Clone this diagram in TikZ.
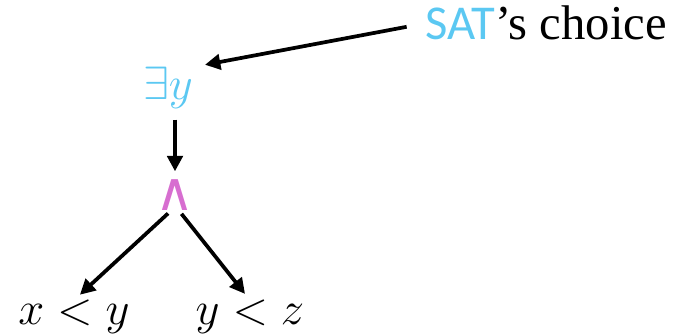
\RequirePackage{fix-cm}
\documentclass[tikz,border=0pt]{standalone}
\usepackage{fontspec}
\setmainfont{Liberation Serif}
\newfontfamily\satfont{Carlito}
\newfontfamily\symfont{DejaVu Sans}
\usetikzlibrary{arrows.meta}
\definecolor{satblue}{RGB}{91,200,242}
\definecolor{andpink}{RGB}{215,110,208}
\tikzset{
  lbl/.style={inner sep=0pt, font=\fontsize{35}{42}\selectfont},
  arr/.style={line width=2.8pt, -{Triangle[length=11.5pt,width=11.5pt]}}
}
\begin{document}
\begin{tikzpicture}[x=0.75pt,y=-0.75pt]
  \useasboundingbox (0,0) rectangle (676,335);
  % labels
  \node[lbl, anchor=base west, font=\fontsize{36.5}{44}\selectfont] (sat) at (425,40) {{\satfont\color{satblue}SAT}’s choice};
  \node[lbl, text=satblue] (ey) at (168,88) {$\exists y$};
  \node[lbl, text=andpink, font=\symfont\fontsize{40}{48}\selectfont] (and) at (175,195) {∧};
  \node[lbl, anchor=base] (lt1) at (74,325) {$x<y$};
  \node[lbl, anchor=base] (lt2) at (250,325) {$y<z$};
  % connectors
  \draw[arr, shorten <=14pt, shorten >=9pt] (sat.west) -- (ey.north east);
  \draw[arr, shorten <=8pt, shorten >=6pt] (ey.south -| and.north) -- (and.north);
  \draw[arr, shorten <=3pt, shorten >=6pt] ([xshift=-3]and.south) -- (lt1.north);
  \draw[arr, shorten <=3pt, shorten >=6pt] ([xshift=3]and.south) -- (lt2.north);
\end{tikzpicture}
\end{document}
